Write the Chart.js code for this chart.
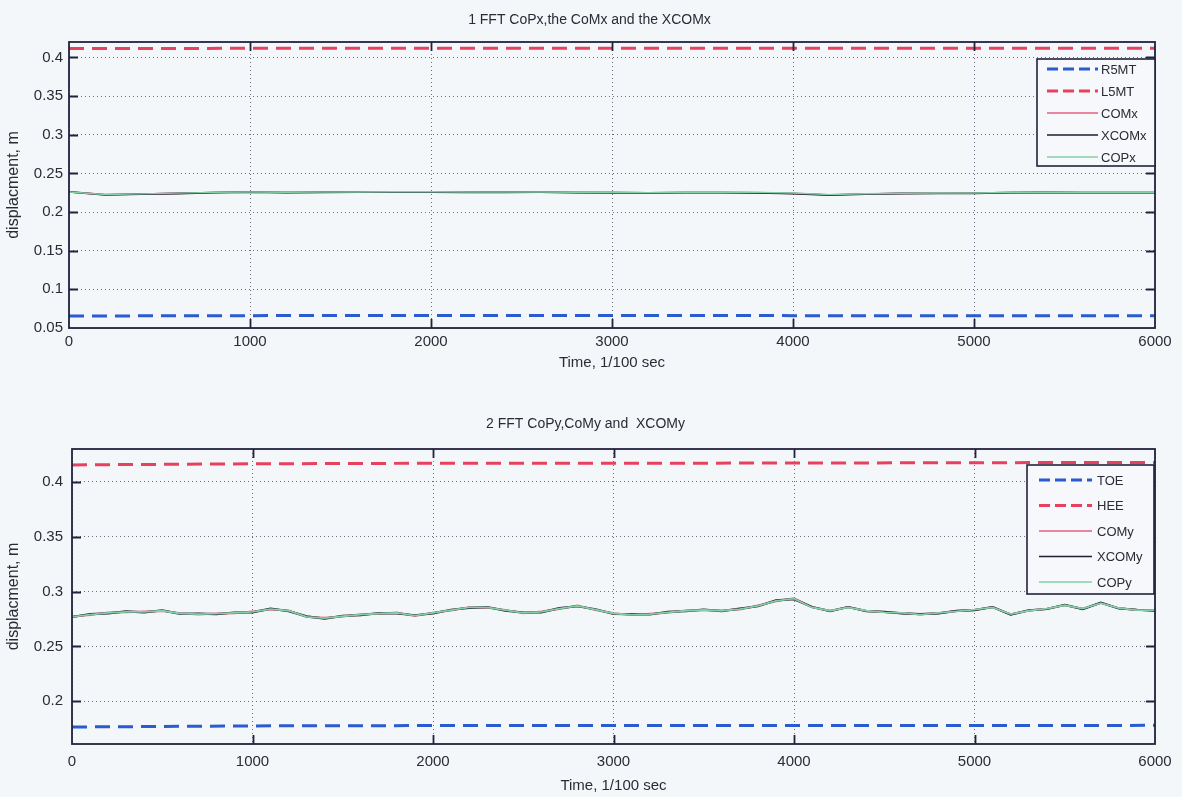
<!DOCTYPE html>
<html><head><meta charset="utf-8">
<script src="https://cdn.jsdelivr.net/npm/chart.js@4.4.1/dist/chart.umd.min.js"></script>
<style>
html,body{margin:0;padding:0;background:#f4f7fa;}
#wrap{position:relative;width:1182px;height:797px;overflow:hidden;background:#f4f7fa;}
canvas{position:absolute;left:0;}
#c1{top:0}
#c2{top:398px}
</style></head><body>
<div id="wrap"><canvas id="c1" width="1182" height="398"></canvas><canvas id="c2" width="1182" height="399"></canvas></div>
<script>
// ---- tick values / labels ----
const timeTicks = [0,1000,2000,3000,4000,5000,6000];
const timeTickLabels = ['0','1000','2000','3000','4000','5000','6000'];
const yTicksTop = [0.05,0.1,0.15,0.2,0.25,0.3,0.35,0.4];
const yTickLabelsTop = ['0.05','0.1','0.15','0.2','0.25','0.3','0.35','0.4'];
const yTicksBottom = [0.2,0.25,0.3,0.35,0.4];
const yTickLabelsBottom = ['0.2','0.25','0.3','0.35','0.4'];

// ---- series names ----
const namesTop = ['R5MT','L5MT','COMx','XCOMx','COPx'];
const namesBottom = ['TOE','HEE','COMy','XCOMy','COPy'];

// ---- foot marker lines ----
const markerTime = [0,1000,2000,3000,4000,5000,6000];
const r5mt = [0.0655,0.0660,0.0662,0.0662,0.0660,0.0658,0.0660];
const l5mt = [0.4115,0.4118,0.4120,0.4120,0.4118,0.4118,0.4120];
const toe  = [0.1765,0.1775,0.1778,0.1778,0.1778,0.1778,0.1780];
const hee  = [0.4155,0.4165,0.4170,0.4170,0.4172,0.4175,0.4178];

// ---- medio-lateral (x) ----
const timeX = [0,200,400,600,800,1000,1200,1400,1600,1800,2000,2200,2400,2600,2800,3000,3200,3400,3600,3800,4000,4200,4400,4600,4800,5000,5200,5400,5600,5800,6000];
const comX  = [0.2261,0.2225,0.2233,0.2242,0.2253,0.2258,0.2254,0.2256,0.2258,0.2260,0.2260,0.2258,0.2256,0.2258,0.2254,0.2251,0.2250,0.2253,0.2253,0.2251,0.2242,0.2223,0.2233,0.2242,0.2244,0.2245,0.2252,0.2255,0.2253,0.2253,0.2253];
const xcomX = [0.2262,0.2222,0.2231,0.2240,0.2251,0.2257,0.2252,0.2255,0.2257,0.2258,0.2259,0.2256,0.2254,0.2257,0.2252,0.2250,0.2248,0.2251,0.2251,0.2249,0.2238,0.2220,0.2231,0.2240,0.2242,0.2243,0.2251,0.2253,0.2252,0.2252,0.2252];
const copX  = [0.2260,0.2228,0.2235,0.2245,0.2255,0.2260,0.2256,0.2258,0.2260,0.2262,0.2262,0.2260,0.2258,0.2260,0.2256,0.2253,0.2252,0.2255,0.2255,0.2254,0.2246,0.2226,0.2236,0.2244,0.2246,0.2247,0.2254,0.2257,0.2255,0.2255,0.2255];

// ---- anterior-posterior (y) ----
const timeY = [0,100,200,300,400,500,600,700,800,900,1000,1100,1200,1300,1400,1500,1600,1700,1800,1900,2000,2100,2200,2300,2400,2500,2600,2700,2800,2900,3000,3100,3200,3300,3400,3500,3600,3700,3800,3900,4000,4100,4200,4300,4400,4500,4600,4700,4800,4900,5000,5100,5200,5300,5400,5500,5600,5700,5800,5900,6000];
const comY  = [0.2772,0.2787,0.2808,0.2812,0.2818,0.2822,0.2803,0.2792,0.2801,0.2802,0.2818,0.2837,0.2828,0.2767,0.2761,0.2772,0.2793,0.2797,0.2808,0.2777,0.2808,0.2827,0.2858,0.2852,0.2833,0.2802,0.2818,0.2842,0.2873,0.2832,0.2803,0.2787,0.2798,0.2807,0.2828,0.2829,0.2828,0.2837,0.2873,0.2912,0.2938,0.2858,0.2822,0.2858,0.2822,0.2813,0.2802,0.2793,0.2802,0.2823,0.2832,0.2858,0.2792,0.2828,0.2842,0.2878,0.2842,0.2898,0.2847,0.2833,0.2827];
const xcomY = [0.2768,0.2794,0.2801,0.2819,0.2811,0.2829,0.2796,0.2799,0.2794,0.2809,0.2811,0.2844,0.2821,0.2774,0.2754,0.2779,0.2786,0.2804,0.2801,0.2784,0.2801,0.2834,0.2851,0.2859,0.2826,0.2809,0.2811,0.2849,0.2866,0.2839,0.2796,0.2794,0.2791,0.2814,0.2821,0.2836,0.2821,0.2844,0.2866,0.2919,0.2931,0.2859,0.2821,0.2859,0.2821,0.2814,0.2801,0.2794,0.2801,0.2824,0.2831,0.2859,0.2791,0.2829,0.2841,0.2879,0.2841,0.2899,0.2846,0.2834,0.2826];
const copY  = [0.2770,0.2790,0.2805,0.2815,0.2815,0.2825,0.2800,0.2795,0.2798,0.2805,0.2815,0.2840,0.2825,0.2770,0.2758,0.2775,0.2790,0.2800,0.2805,0.2780,0.2805,0.2830,0.2855,0.2855,0.2830,0.2805,0.2815,0.2845,0.2870,0.2835,0.2800,0.2790,0.2795,0.2810,0.2825,0.2832,0.2825,0.2840,0.2870,0.2915,0.2935,0.2855,0.2825,0.2855,0.2825,0.2810,0.2805,0.2790,0.2805,0.2820,0.2835,0.2855,0.2795,0.2825,0.2845,0.2875,0.2845,0.2895,0.2850,0.2830,0.2830];

// ---------------------------------------------------------------
const FONT = "'Liberation Sans', Arial, Helvetica, sans-serif";
const TXT = '#2b2b36';
const FRAME = '#22223e';
const BLUE = '#2a5bd0';
const RED = '#e8405e';
const PINK = '#e2607e';
const NAVY = '#1e1e34';
const GREEN = '#86cfa6';

function pts(t, v){ return t.map((x,i)=>({x:x, y:v[i]})); }

function makeDatasets(names, mt, lo, hi, tt, com, xcom, cop, w){
  return [
    {label:names[0], data:pts(mt, lo), borderColor:BLUE, borderWidth:3, borderDash:[15,8], order:4},
    {label:names[1], data:pts(mt, hi), borderColor:RED, borderWidth:3, borderDash:[15,8], order:3},
    {label:names[2], data:pts(tt, com), borderColor:PINK, borderWidth:w, order:2},
    {label:names[3], data:pts(tt, xcom), borderColor:NAVY, borderWidth:w+0.2, order:1},
    {label:names[4], data:pts(tt, cop), borderColor:GREEN, borderWidth:w-0.2, order:0}
  ].map(d=>Object.assign(d,{pointRadius:0, fill:false, tension:0}));
}

const framePlugin = {
  id:'framePlugin',
  afterDraw(chart, args, opts){
    const ctx = chart.ctx, a = chart.chartArea;
    const xs = chart.scales.x, ys = chart.scales.y;
    ctx.save();
    ctx.strokeStyle = FRAME; ctx.lineWidth = 1.8;
    const L = 9;
    ctx.beginPath();
    opts.xTicks.forEach(v=>{
      const px = Math.round(xs.getPixelForValue(v))+0.5;
      if (px > a.left+2 && px < a.right-2){
        ctx.moveTo(px, a.bottom); ctx.lineTo(px, a.bottom-L);
        ctx.moveTo(px, a.top); ctx.lineTo(px, a.top+L);
      }
    });
    opts.yTicks.forEach(v=>{
      const py = Math.round(ys.getPixelForValue(v))+0.5;
      if (py > a.top+2 && py < a.bottom-2){
        ctx.moveTo(a.left, py); ctx.lineTo(a.left+L, py);
        ctx.moveTo(a.right, py); ctx.lineTo(a.right-L, py);
      }
    });
    ctx.stroke();
    ctx.strokeRect(a.left, a.top, a.right-a.left, a.bottom-a.top);

    // legend
    const lg = opts.legend;
    ctx.fillStyle = '#f6f8fb';
    ctx.fillRect(lg.x, lg.y, lg.w, lg.h);
    ctx.lineWidth = 1.6; ctx.strokeStyle = FRAME;
    ctx.strokeRect(lg.x, lg.y, lg.w, lg.h);
    ctx.font = '13px ' + FONT;
    ctx.textBaseline = 'middle'; ctx.textAlign = 'left';
    chart.data.datasets.forEach((d,i)=>{
      const yy = lg.y + lg.first + i*lg.step;
      ctx.save();
      ctx.strokeStyle = d.borderColor;
      ctx.lineWidth = d.borderDash ? 3 : 1.5;
      ctx.setLineDash(d.borderDash ? [11,5] : []);
      ctx.beginPath(); ctx.moveTo(lg.x+lg.s0, yy); ctx.lineTo(lg.x+lg.s1, yy); ctx.stroke();
      ctx.restore();
      ctx.fillStyle = TXT;
      ctx.fillText(d.label, lg.x+lg.tx, yy+1);
    });
    ctx.restore();
  }
};

function makeChart(id, cfg){
  const ticksFont = {family:FONT, size:15};
  const YT_FONT = 16;
  const yTitlePad = cfg.ylabelX - cfg.padLeft - YT_FONT*1.2/2;
  return new Chart(document.getElementById(id), {
    type:'line',
    data:{datasets:cfg.datasets},
    plugins:[framePlugin],
    options:{
      responsive:false, animation:false, devicePixelRatio:1,
      layout:{padding:{left:cfg.padLeft, right:1182-cfg.right, top:0, bottom:0}},
      plugins:{
        legend:{display:false}, tooltip:{enabled:false},
        title:{display:true, text:cfg.title, color:TXT, font:{family:FONT, size:14, weight:'normal'}, padding:{top:cfg.titleTop, bottom:cfg.titleBottom}},
        framePlugin:{xTicks:timeTicks, yTicks:cfg.yTicks, legend:cfg.legend}
      },
      scales:{
        x:{
          type:'linear', min:0, max:6000,
          afterBuildTicks(s){ s.ticks = timeTicks.map(v=>({value:v})); },
          afterFit(s){ s.height = cfg.xHeight; },
          ticks:{color:TXT, font:ticksFont, padding:cfg.xTickPad, maxRotation:0, autoSkip:false,
                 callback:(v,i)=>timeTickLabels[i]},
          grid:{color:'#6c6c7c', lineWidth:1, drawTicks:false},
          border:{display:false, dash:[1,3]},
          title:{display:true, text:'Time, 1/100 sec', color:TXT, font:{family:FONT, size:15}, padding:{top:0, bottom:cfg.xTitleBottom}}
        },
        y:{
          type:'linear', min:cfg.ymin, max:cfg.ymax,
          afterBuildTicks(s){ s.ticks = cfg.yTicks.map(v=>({value:v})); },
          afterFit(s){ s.width = cfg.left - cfg.padLeft; },
          ticks:{color:TXT, font:ticksFont, padding:cfg.yTickPad, autoSkip:false,
                 callback:(v,i)=>cfg.yLabels[i]},
          grid:{color:'#6c6c7c', lineWidth:1, drawTicks:false},
          border:{display:false, dash:[1,3]},
          title:{display:true, text:'displacment, m', color:TXT, font:{family:FONT, size:YT_FONT}, padding:{top:yTitlePad, bottom:0}}
        }
      }
    }
  });
}

makeChart('c1', {
  title:'1 FFT CoPx,the CoMx and the XCOMx',
  datasets: makeDatasets(namesTop, markerTime, r5mt, l5mt, timeX, comX, xcomX, copX, 1.6),
  padLeft:24, ylabelX:14,
  right:1155, left:69, titleTop:12, titleBottom:13.2, xHeight:70, xTickPad:5, xTitleBottom:26, yTickPad:6,
  ymin:0.05, ymax:0.42, yTicks:yTicksTop, yLabels:yTickLabelsTop,
  legend:{x:1037, y:59, w:118, h:107, first:10, step:22, s0:10, s1:61, tx:64}
});

makeChart('c2', {
  title:'2 FFT CoPy,CoMy and  XCOMy',
  datasets: makeDatasets(namesBottom, markerTime, toe, hee, timeY, comY, xcomY, copY, 2),
  padLeft:16, ylabelX:14,
  right:1155, left:72, titleTop:17.6, titleBottom:16.6, xHeight:53, xTickPad:9, xTitleBottom:2, yTickPad:9,
  ymin:0.161, ymax:0.430, yTicks:yTicksBottom, yLabels:yTickLabelsBottom,
  legend:{x:1027, y:67, w:127, h:129, first:15, step:25.5, s0:12, s1:65, tx:70}
});
</script>
</body></html>
